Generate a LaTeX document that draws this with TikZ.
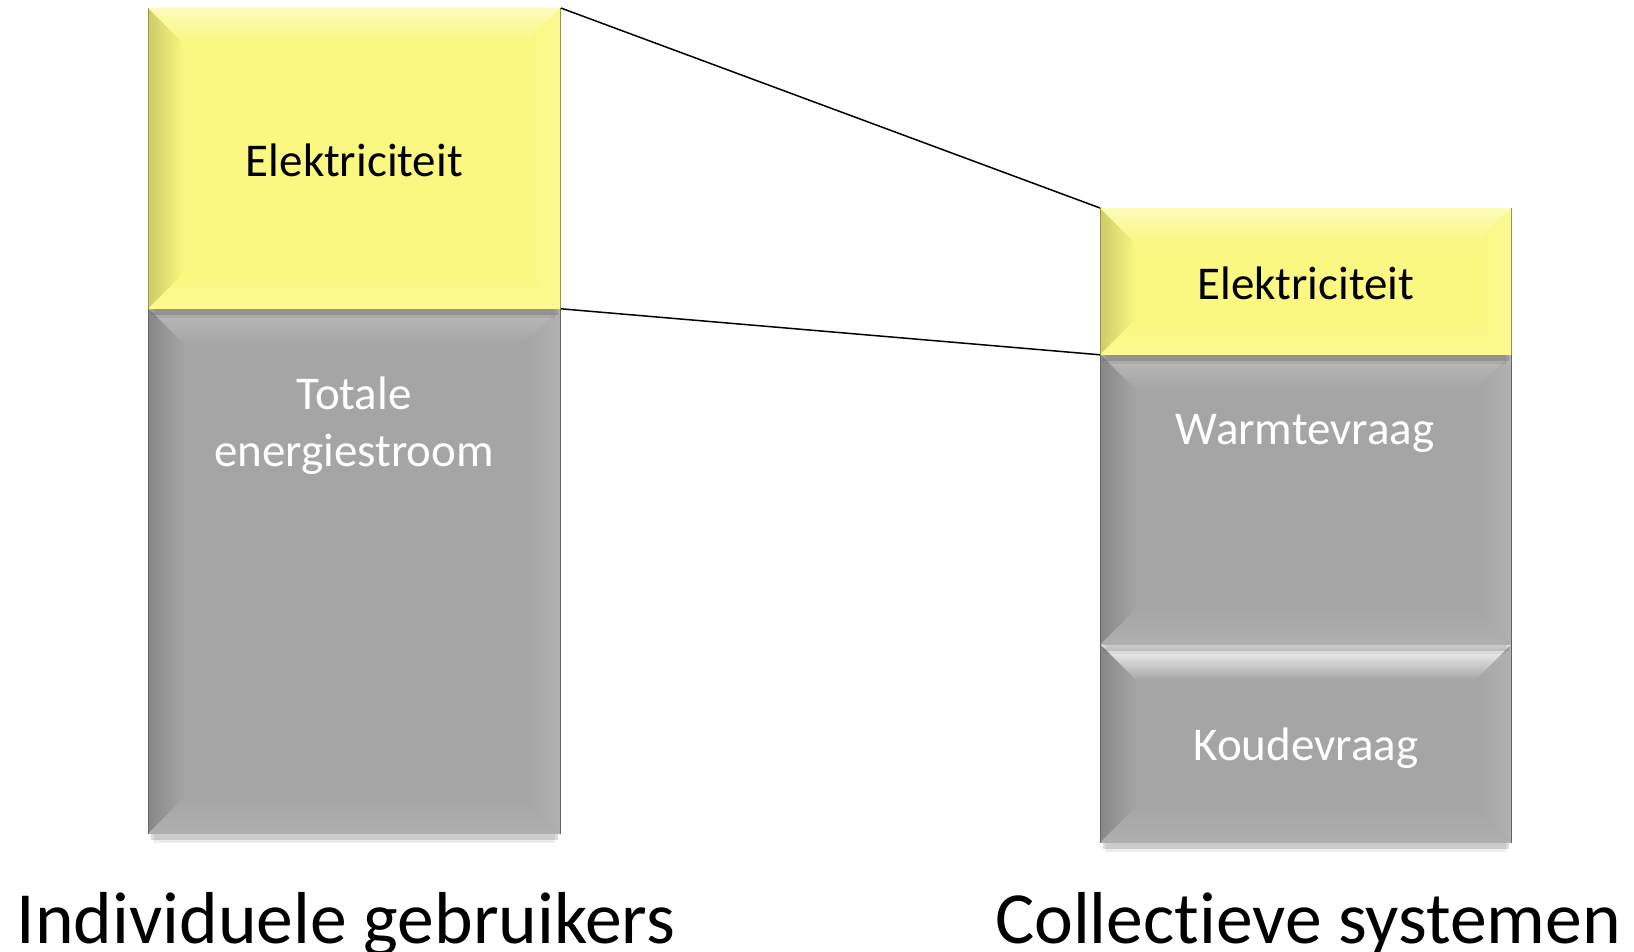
\documentclass[tikz,border=0pt]{standalone}
\usepackage{fontspec}
\setmainfont{Carlito}[Ligatures={NoCommon}]
\usetikzlibrary{calc}
\definecolor{ylw}{RGB}{250,248,128}
\definecolor{gry}{RGB}{165,165,165}
\newcommand{\bevelit}[3]{% node, base colour, top highlight colour
  \coordinate (bnw) at (#1.north west);
  \coordinate (bne) at (#1.north east);
  \coordinate (bsw) at (#1.south west);
  \coordinate (bse) at (#1.south east);
  \fill[black,opacity=0.14] ($(bsw)+(3,0)$) rectangle ($(bse)+(-3,6)$);
  \fill[black,opacity=0.07] ($(bsw)+(6,0)$) rectangle ($(bse)+(-6,9)$);
  \fill[#2] (bnw) rectangle (bse);
  \shade[left color=#2!82!black, right color=#2] (bnw) -- (bsw) -- ($(bsw)+(36,-36)$) -- ($(bnw)+(36,36)$) -- cycle;
  \shade[top color=#3, bottom color=#2] (bnw) -- (bne) -- ($(bne)+(-36,36)$) -- ($(bnw)+(36,36)$) -- cycle;
  \shade[right color=#2!85!white, left color=#2] (bne) -- (bse) -- ($(bse)+(-36,-36)$) -- ($(bne)+(-36,36)$) -- cycle;
  \shade[bottom color=#2!88!white, top color=#2] (bsw) -- (bse) -- ($(bse)+(-36,-36)$) -- ($(bsw)+(36,-36)$) -- cycle;
  \draw[#2!60!black,line width=0.5pt] (bnw) -- (bsw) (bne) -- (bse);
}
\tikzset{
  box/.style={rectangle, inner sep=0pt, anchor=north west, minimum width=#1},
  lbl/.style={font=\fontsize{23.5}{28.5}\selectfont, align=center},
  big/.style={font=\fontsize{36.8}{44}\selectfont, anchor=base},
  conn/.style={black, line width=0.75pt}
}
\begin{document}
\begin{tikzpicture}[x=0.5pt,y=-0.5pt]
\useasboundingbox (0,0) rectangle (1634,952);
% boxes (geometry)
\node[box=206pt, minimum height=262.5pt] (lg) at (148,308) {};
\node[box=206pt, minimum height=150pt] (ly) at (148,8) {};
\node[box=205.5pt, minimum height=99pt] (rk) at (1100,644) {};
\node[box=205.5pt, minimum height=145pt] (rw) at (1100,354) {};
\node[box=205.5pt, minimum height=73pt] (ry) at (1100,208) {};
% bevel rendering
\bevelit{lg}{gry}{gry!75!white}
\bevelit{ly}{ylw}{ylw!55!white}
\bevelit{rk}{gry}{white}
\bevelit{rw}{gry}{gry!75!white}
\bevelit{ry}{ylw}{ylw!55!white}
% labels
\node[lbl, black] (lyt) at ($(ly.center)+(0,2)$) {Elektriciteit};
\node[lbl, black] (ryt) at ($(ry.center)+(0,2)$) {Elektriciteit};
\node[lbl, white] (lgt) at (354,426) {Totale\\energiestroom};
\node[lbl, white] (rwt) at (1305,433) {Warmtevraag};
\node[lbl, white] (rkt) at ($(rk.center)+(0,5)$) {Koudevraag};
\node[big] (ind) at (346,943) {Individuele gebruikers};
\node[big] (col) at (1308,943) {Collectieve systemen};
% connectors
\draw[conn] (ly.north east) -- (ry.north west);
\draw[conn] (ly.south east) -- (ry.south west);
\end{tikzpicture}
\end{document}
